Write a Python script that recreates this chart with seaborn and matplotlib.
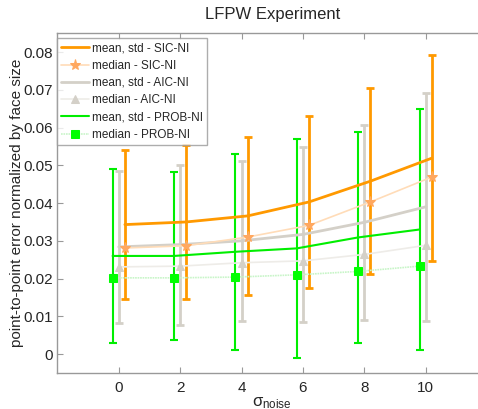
import numpy as np
import pandas as pd
import matplotlib
matplotlib.use("Agg")
import matplotlib.pyplot as plt
import seaborn as sns

# === Data ===
sigma = [0, 2, 4, 6, 8, 10]

sic_mean = [0.0343, 0.0350, 0.0366, 0.0403, 0.0458, 0.0519]
sic_std = [0.0198, 0.0205, 0.0209, 0.0228, 0.0246, 0.0273]
sic_median = [0.0281, 0.0287, 0.0310, 0.0341, 0.0403, 0.0469]

aic_mean = [0.0284, 0.0290, 0.0300, 0.0317, 0.0349, 0.0390]
aic_std = [0.0201, 0.0212, 0.0211, 0.0232, 0.0258, 0.0301]
aic_median = [0.0231, 0.0233, 0.0242, 0.0247, 0.0264, 0.0288]

prob_mean = [0.0260, 0.0260, 0.0271, 0.0280, 0.0309, 0.0330]
prob_std = [0.0230, 0.0222, 0.0259, 0.0290, 0.0280, 0.0319]
prob_median = [0.0202, 0.0202, 0.0204, 0.0210, 0.0219, 0.0233]

# === Style ===
sns.set_style("white")
plt.rcParams["font.family"] = ["Liberation Sans", "DejaVu Sans"]
plt.rcParams["mathtext.fontset"] = "custom"
plt.rcParams["mathtext.rm"] = "Liberation Sans"
plt.rcParams["mathtext.it"] = "Liberation Sans:italic"

ORANGE = "#ff9900"
ORANGE_LIGHT = "#ffdcb8"
ORANGE_MARK = "#ffa860"
GRAY = "#d4d0c8"
GRAY_LIGHT = "#eeece8"
GREEN = "#00ee00"
GREEN_LIGHT = "#c8f5c8"
GREEN_MARK = "#00ff00"

fig = plt.figure(figsize=(4.78, 4.09), dpi=100)
ax = fig.add_axes([0.12, 0.088, 0.899, 0.831])

x = np.array(sigma, dtype=float)
series = [
    ("SIC-NI", x + 0.2, sic_mean, sic_std, sic_median, ORANGE, ORANGE_LIGHT, ORANGE_MARK, "*", 2.0),
    ("AIC-NI", x, aic_mean, aic_std, aic_median, GRAY, GRAY_LIGHT, GRAY, "^", 2.0),
    ("PROB-NI", x - 0.2, prob_mean, prob_std, prob_median, GREEN, GREEN_LIGHT, GREEN_MARK, "s", 1.5),
]

for name, xs, mean, std, med, col, lcol, mcol, mk, lw in series:
    df = pd.DataFrame({"x": xs, "mean": mean, "median": med})
    sns.lineplot(data=df, x="x", y="mean", color=col, lw=lw, ax=ax,
                 label=f"mean, std - {name}", zorder=3)
    ax.errorbar(xs, mean, yerr=std, fmt="none", ecolor=col, elinewidth=lw,
                capsize=3, capthick=lw, zorder=2)
    sns.lineplot(data=df, x="x", y="median", color=lcol, lw=1.2, ax=ax,
                 marker=mk, markersize=8 if mk == "*" else 6,
                 markerfacecolor=mcol, markeredgecolor=mcol,
                 linestyle=(0, (1, 0.5)) if mk == "s" else "-",
                 label=f"median - {name}", zorder=4)

ax.set_xlim(-2, 12)
ax.set_ylim(-0.005, 0.085)
ax.set_xticks(sigma)
ax.set_yticks(np.arange(0, 0.081, 0.01))
ax.set_yticklabels(["0"] + [f"{v:.2f}" for v in np.arange(0.01, 0.081, 0.01)])

for s in ax.spines.values():
    s.set_color("#999999")
    s.set_linewidth(1.0)
ax.tick_params(direction="in", length=4, color="#999999", labelsize=11,
               top=True, bottom=True, left=True, right=False, pad=3)
ax.tick_params(axis="x", pad=6)

ax.set_title("LFPW Experiment", fontsize=12, pad=10)
ax.set_xlabel("σ$_{\\rm noise}$", fontsize=12, labelpad=0)
ax.set_ylabel("point-to-point error normalized by face size", fontsize=11)
ax.yaxis.set_label_coords(-0.077, 0.5)

leg = ax.legend(loc="upper left", bbox_to_anchor=(0.0, 0.985), fontsize=8.5,
                frameon=True, fancybox=False, borderaxespad=0.0,
                handlelength=2.3, labelspacing=0.45, borderpad=0.35,
                handletextpad=0.3)
leg.get_frame().set_edgecolor("#999999")
leg.get_frame().set_linewidth(1.0)

fig.savefig("out.png", dpi=100)
